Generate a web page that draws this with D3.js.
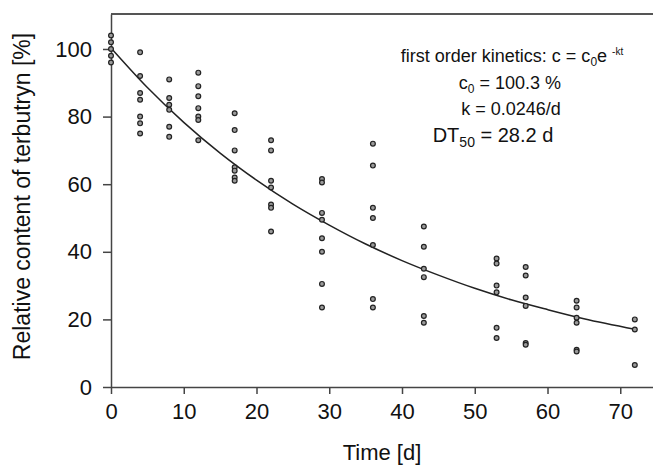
<!DOCTYPE html>
<meta charset="utf-8">
<title>Terbutryn dissipation</title>
<style>

body {
  margin: 0;
  background: #fff;
  font-family: "Liberation Sans", Arial, sans-serif;
}

.axis path,
.axis line {
  fill: none;
  stroke: #444;
  stroke-width: 1.5;
}

.axis text {
  fill: #111;
  font-size: 22px;
}

.frame {
  stroke: #555;
  stroke-width: 2;
}

.dot {
  fill: #9a9a9a;
  stroke: #222;
  stroke-width: 1.2;
}

.fit {
  fill: none;
  stroke: #222;
  stroke-width: 1.5;
}

.label {
  fill: #111;
  font-size: 22px;
}

.note {
  fill: #111;
  font-size: 18px;
}

</style>
<body>
<svg id="chart"></svg>

<script src="https://d3js.org/d3.v7.min.js"></script>
<script>

// sampling days and the measured relative contents (%) at each day
var days = [0, 4, 8, 12, 17, 22, 29, 36, 43, 53, 57, 64, 72];
var contents = [
  [104, 102, 100, 98, 96],
  [99, 92, 87, 85, 80, 78, 75],
  [91, 85.5, 83.5, 82, 77, 74],
  [93, 89, 86, 82.5, 80, 79, 73],
  [81, 76, 70, 65, 64, 62, 61],
  [73, 70, 61, 59, 54, 53, 46],
  [61.5, 60.5, 51.5, 49.5, 44, 40, 30.5, 23.5],
  [72, 65.5, 53, 50, 42, 26, 23.5],
  [47.5, 41.5, 35, 32.5, 21, 19],
  [38, 36.5, 30, 28, 17.5, 14.5],
  [35.5, 33, 26.5, 24, 13, 12.5],
  [25.5, 23.5, 20.5, 19, 11, 10.5],
  [20, 17, 6.5]
];

// fitted first order curve
var curveDays = [0, 5, 10, 15, 20, 25, 30, 35, 40, 45, 50, 55, 60, 65, 72];
var curveValues = [100.3, 88.6, 78.3, 69.2, 61.2, 54.1, 47.9, 42.3, 37.4, 33.1, 29.2, 25.8, 22.9, 20.2, 17.1];

var xTicks = [0, 10, 20, 30, 40, 50, 60, 70];
var yTicks = [0, 20, 40, 60, 80, 100];

var margin = {top: 14, right: 0, bottom: 79, left: 111},
    width = 653 - margin.left - margin.right,
    height = 466 - margin.top - margin.bottom;

var x = d3.scaleLinear()
    .domain([0, 74.5])
    .range([0, width]);

var y = d3.scaleLinear()
    .domain([0, 110.35])
    .range([height, 0]);

var svg = d3.select("#chart")
    .attr("width", width + margin.left + margin.right)
    .attr("height", height + margin.top + margin.bottom)
  .append("g")
    .attr("transform", "translate(" + margin.left + "," + margin.top + ")");

// top border of the frame
svg.append("line")
    .attr("class", "frame")
    .attr("x1", 0)
    .attr("x2", width)
    .attr("y1", 0)
    .attr("y2", 0);

svg.append("g")
    .attr("class", "x axis")
    .attr("transform", "translate(0," + height + ")")
    .call(d3.axisBottom(x).tickValues(xTicks).tickSize(7).tickPadding(9).tickSizeOuter(0));

svg.append("g")
    .attr("class", "y axis")
    .call(d3.axisLeft(y).tickValues(yTicks).tickSize(8).tickPadding(11).tickSizeOuter(0));

svg.selectAll(".axis text")
    .style("font-family", "'Liberation Sans', Arial, sans-serif");

svg.append("text")
    .attr("class", "label")
    .attr("x", width / 2)
    .attr("y", height + 73)
    .style("text-anchor", "middle")
    .text("Time [d]");

svg.append("text")
    .attr("class", "label")
    .attr("transform", "rotate(-90)")
    .attr("x", -(height / 2) + 4)
    .attr("y", -81)
    .style("text-anchor", "middle")
    .style("font-size", "23px")
    .text("Relative content of terbutryn [%]");

var line = d3.line()
    .x(function(d, i) { return x(curveDays[i]); })
    .y(function(d) { return y(d); })
    .curve(d3.curveMonotoneX);

svg.append("path")
    .datum(curveValues)
    .attr("class", "fit")
    .attr("d", line);

var points = [];
days.forEach(function(day, i) {
  contents[i].forEach(function(v) {
    points.push({day: day, value: v});
  });
});

svg.selectAll(".dot")
    .data(points)
  .enter().append("circle")
    .attr("class", "dot")
    .attr("r", 2.4)
    .attr("cx", function(d) { return x(d.day); })
    .attr("cy", function(d) { return y(d.value); });

// annotation block
var note = svg.append("g")
    .attr("class", "note")
    .style("text-anchor", "middle");

var l1 = note.append("text").attr("x", 401).attr("y", 48);
l1.append("tspan").text("first order kinetics: c = c");
l1.append("tspan").attr("dy", 4).style("font-size", "12px").text("0");
l1.append("tspan").attr("dy", -4).text("e ");
l1.append("tspan").attr("dy", -7).style("font-size", "10px").text("-kt");

var l2 = note.append("text").attr("x", 399).attr("y", 75);
l2.append("tspan").text("c");
l2.append("tspan").attr("dy", 4).style("font-size", "12px").text("0");
l2.append("tspan").attr("dy", -4).text(" = 100.3 %");

var l3 = note.append("text").attr("x", 400).attr("y", 101);
l3.append("tspan").text("k  = 0.0246/d");

var l4 = note.append("text").attr("x", 382).attr("y", 128).style("font-size", "20px");
l4.append("tspan").text("DT");
l4.append("tspan").attr("dy", 5).style("font-size", "14px").text("50");
l4.append("tspan").attr("dy", -5).text(" = 28.2 d");

</script>
</body>
